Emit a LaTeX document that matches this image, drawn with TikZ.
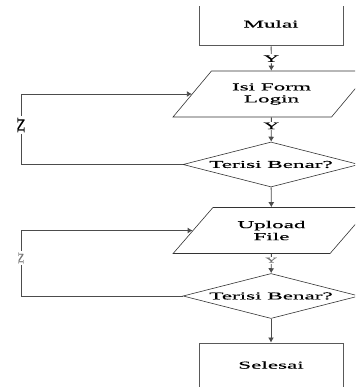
\documentclass[tikz,border=0pt]{standalone}
\usepackage{fontspec}
\usetikzlibrary{shapes.geometric,arrows.meta}
\newfontfamily\flowfont[FakeStretch=2.2,FakeBold=0.5]{Liberation Serif}

\begin{document}
\begin{tikzpicture}[x=1pt, y=-1pt,
  every node/.style={font=\flowfont\fontsize{10.5}{12}\selectfont},
  proses/.style={draw=black!65, line width=1pt, minimum width=144pt, minimum height=44pt, inner sep=0pt},
  masukan/.style={trapezium, trapezium left angle=40, trapezium right angle=140, trapezium stretches=true,
    draw=black!80, line width=0.6pt, minimum width=197pt, minimum height=46pt, inner sep=0pt, align=center},
  keputusan/.style={diamond, draw=black!80, line width=0.6pt, minimum width=176pt, minimum height=45pt,
    inner sep=0pt, shape aspect=3.9},
  alur/.style={draw=black!70, line width=0.9pt, -{Latex[length=5pt,width=6pt]}},
  garis/.style={draw=black!70, line width=0.9pt},
  ket/.style={fill=white, inner sep=1pt, font=\flowfont\fontsize{10}{10}\selectfont},
  ketkecil/.style={fill=white, inner sep=1pt, text=black!55, font=\flowfont\fontsize{7.5}{8}\selectfont},
  ]
  \useasboundingbox (0,0) rectangle (355,387);
  \clip (0,7) rectangle (355,386);

  \node[proses] (mulai) at (271,24) {Mulai};
  \node[masukan] (login) at (271.5,94) {Isi Form\\Login};
  \node[keputusan] (cek1) at (271,164.5) {Terisi Benar?};
  \node[masukan] (upload) at (271.5,230.5) {Upload\\File};
  \node[keputusan] (cek2) at (271,296) {Terisi Benar?};
  \node[proses] (selesai) at (271,365) {Selesai};

  \coordinate (sudut1) at (21,164.5);
  \coordinate (sudut2) at (21,296);

  \draw[alur] (mulai) -- node[ket] {Y} (login);
  \draw[alur] (login) -- node[ket, pos=0.35] {Y} (cek1);
  \draw[alur] (cek1) -- (upload);
  \draw[alur] (upload) -- node[ketkecil, pos=0.33] {Y} (cek2);
  \draw[alur] (cek2) -- (selesai);

  \draw[garis] (cek1.west) -- (sudut1);
  \draw[alur] (sudut1) |- node[ket, rotate=90, pos=0.28] {N} (login.west);
  \draw[garis] (cek2.west) -- (sudut2);
  \draw[alur] (sudut2) |- node[ketkecil, rotate=90, pos=0.29] {N} (upload.west);
\end{tikzpicture}
\end{document}
